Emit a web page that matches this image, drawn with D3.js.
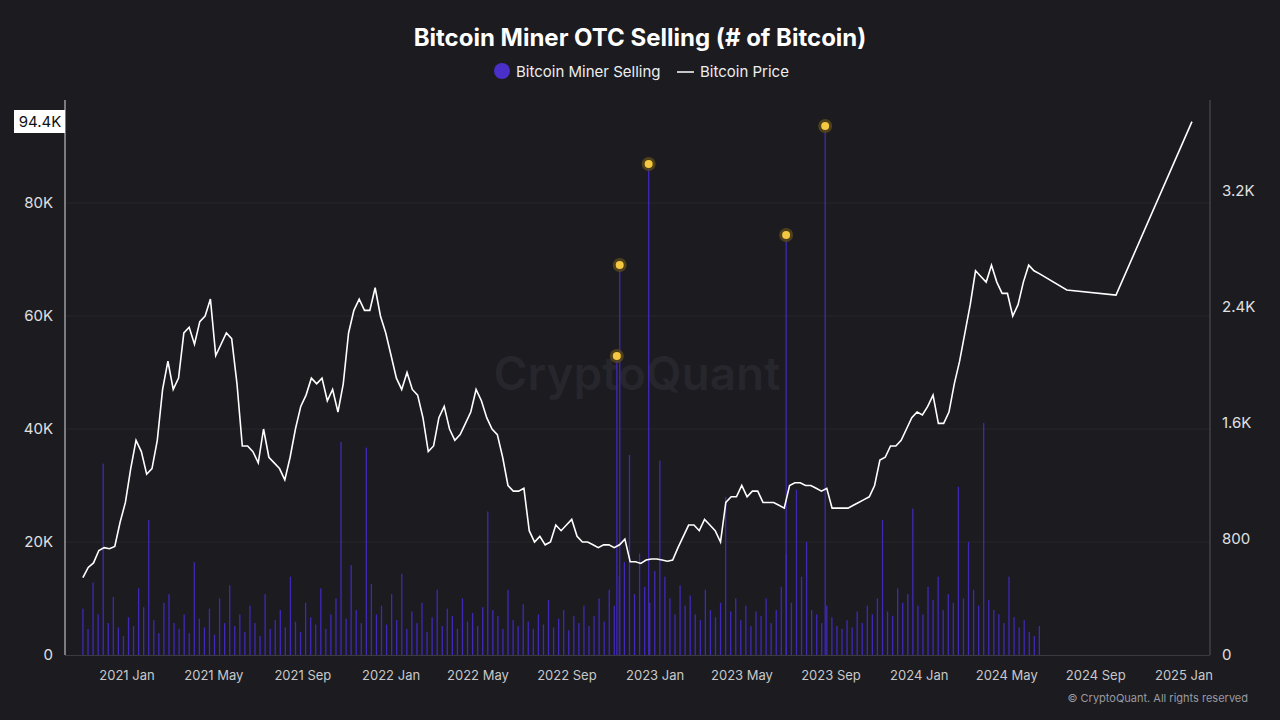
<!DOCTYPE html>
<html><head><meta charset="utf-8">
<script src="https://cdn.jsdelivr.net/npm/d3@7"></script>
<style>body{margin:0;background:#1b1b20;}svg{display:block;font-family:Inter,"Noto Sans",sans-serif;}</style>
</head><body><svg id="c" width="1280" height="720"></svg>
<script>
const startDate = "2020-11-01", lineEndDate = "2024-06-15";
const priceWeekly = [13.7,15.5,16.3,18.5,19.0,18.8,19.2,23.5,27,33,38,36,32,33,38,47,52,47,49,57,58,55,59,60,63,53,55,57,56,48,37,37,36,34,40,35,34,33,31,35,40,44,46,49,48,49,45,47,43,48,57,61,63,61,61,65,60,57,53,49,47,50,47,46,42,36,37,42,44,40,38,39,41,43,47,45,42,40,39,35,30,29,29,29.5,22,20,21,19.5,20,23,22,23,24,21,20,20,19.5,19,19.5,19.5,19,19.5,20.5,16.5,16.5,16.2,16.8,17,17,16.8,16.6,16.8,19,21,23,23,22,24,23,22,20,27,28,28,30,28,29,29,27,27,27,26.5,26,30,30.5,30.5,30,30,29.5,29,29.5,26,26,26,26,26.5,27,27.5,28,30,34.5,35,37,37,38,40,42,43,42.5,44,46,41,41,43,48,52,57,62,68,67,66,69,66,64,64,60,62,66,69,68,67.5];
const priceTailDates = ["2024-07-23","2024-09-29","2025-01-12"];
const priceTail = [64.6,63.7,94.4];
const sellingWeekly = [320,180,500,280,1320,220,400,190,130,260,200,460,330,930,240,150,360,420,220,180,280,150,640,250,190,320,140,390,220,480,200,280,160,340,220,130,420,180,240,310,190,540,230,160,360,260,210,460,180,280,390,1470,250,620,310,220,1430,490,280,340,210,420,240,560,180,300,220,360,160,260,450,200,320,270,180,390,230,290,200,330,990,310,270,180,450,240,200,350,230,180,280,210,380,190,250,310,170,270,220,340,200,270,390,230,450,340,540,640,1380,420,700,470,360,580,1340,540,390,280,480,340,410,280,240,450,310,260,360,1090,300,390,240,340,200,300,270,390,220,310,470,700,360,1140,540,780,310,280,220,340,260,200,180,240,190,300,220,340,280,390,930,300,270,460,360,420,1010,340,280,470,380,540,310,420,360,1160,390,780,450,340,1600,380,310,280,220,540,260,190,240,160,130,200];
const spikeDates = ["2022-11-09","2022-11-13","2022-12-23","2023-07-01","2023-08-24"];
const spikeValues = [2062,2690,3386,2897,3648];
const xTickDates = ["2021-01-01","2021-05-01","2021-09-01","2022-01-01","2022-05-01","2022-09-01","2023-01-01","2023-05-01","2023-09-01","2024-01-01","2024-05-01","2024-09-01","2025-01-01"];
const leftTicks = [0,20000,40000,60000,80000];
const rightTicks = [0,800,1600,2400,3200];

const p = d3.timeParse("%Y-%m-%d");
const svg = d3.select("#c");
const x = d3.scaleTime().domain([p("2020-11-01"), p("2025-01-01")]).range([82.9, 1184]);
const yL = d3.scaleLinear().domain([0,80000]).range([655,203]);
const yR = d3.scaleLinear().domain([0,3200]).range([655,191]);
const s = p(startDate), e = p(lineEndDate);

svg.append("text").attr("x",637).attr("y",390).attr("text-anchor","middle").attr("font-size",46).attr("font-weight",600).attr("fill","#26262c").text("CryptoQuant");

svg.append("g").selectAll("line").data(leftTicks.slice(1)).join("line")
 .attr("x1",65).attr("x2",1210).attr("y1",d=>yL(d)).attr("y2",d=>yL(d)).attr("stroke","#26262b");

const step = (e - s)/(sellingWeekly.length-1);
svg.append("g").selectAll("rect").data(sellingWeekly).join("rect")
 .attr("x",(d,i)=>x(new Date(+s+i*step))-0.6).attr("width",1.3)
 .attr("y",d=>yR(d)).attr("height",d=>655-yR(d)).attr("fill","#4029b8");
svg.append("g").selectAll("rect").data(spikeValues).join("rect")
 .attr("x",(d,i)=>x(p(spikeDates[i]))-0.6).attr("width",1.3)
 .attr("y",d=>yR(d)).attr("height",d=>655-yR(d)).attr("fill","#4029b8");

const pstep = (e - s)/(priceWeekly.length-1);
const pts = priceWeekly.map((v,i)=>[new Date(+s+i*pstep), v*1000])
 .concat(priceTail.map((v,i)=>[p(priceTailDates[i]), v*1000]));
svg.append("path").datum(pts).attr("fill","none").attr("stroke","#fff").attr("stroke-width",1.6)
 .attr("d", d3.line().x(d=>x(d[0])).y(d=>yL(d[1])));

const dg = svg.append("g");
spikeValues.forEach((v,i)=>{
  dg.append("circle").attr("cx",x(p(spikeDates[i]))).attr("cy",yR(v)).attr("r",7).attr("fill","#5a4a1a").attr("opacity",0.8);
  dg.append("circle").attr("cx",x(p(spikeDates[i]))).attr("cy",yR(v)).attr("r",4).attr("fill","#f5c842");
});

svg.append("line").attr("x1",65).attr("x2",65).attr("y1",100).attr("y2",655).attr("stroke","#ddd");
svg.append("line").attr("x1",1210).attr("x2",1210).attr("y1",100).attr("y2",655).attr("stroke","#555");
svg.append("line").attr("x1",65).attr("x2",1210).attr("y1",655.5).attr("y2",655.5).attr("stroke","#3a3a40");
const fmtK = d=> d===0 ? "0" : (d/1000)+"K";
svg.append("g").selectAll("text").data(leftTicks).join("text").attr("x",53).attr("y",d=>yL(d)+5)
 .attr("text-anchor","end").attr("font-size",15).attr("fill","#e0e0e0").text(fmtK);
svg.append("g").selectAll("text").data(rightTicks).join("text").attr("x",1222).attr("y",d=>yR(d)+5)
 .attr("font-size",15).attr("fill","#e0e0e0").text(d=> d>=1000 ? (d/1000)+"K" : d);
const fx = d3.timeFormat("%Y %b");
svg.append("g").selectAll("text").data(xTickDates).join("text").attr("x",d=>x(p(d))).attr("y",680)
 .attr("text-anchor","middle").attr("font-size",13).attr("fill","#c8c8c8").text(d=>fx(p(d)));

svg.append("rect").attr("x",14).attr("y",110).attr("width",51).attr("height",23).attr("fill","#fff");
svg.append("text").attr("x",40).attr("y",127).attr("text-anchor","middle").attr("font-size",15).attr("fill","#111").text("94.4K");

svg.append("text").attr("x",640).attr("y",46).attr("text-anchor","middle").attr("font-size",24).attr("font-weight",700).attr("fill","#fff").text("Bitcoin Miner OTC Selling (# of Bitcoin)");
svg.append("circle").attr("cx",502).attr("cy",71).attr("r",8).attr("fill","#4a30c8");
svg.append("text").attr("x",516).attr("y",77).attr("font-size",15).attr("fill","#eee").text("Bitcoin Miner Selling");
svg.append("line").attr("x1",677).attr("x2",694).attr("y1",72).attr("y2",72).attr("stroke","#fff").attr("stroke-width",1.5);
svg.append("text").attr("x",700).attr("y",77).attr("font-size",15).attr("fill","#eee").text("Bitcoin Price");
svg.append("text").attr("x",1248).attr("y",702).attr("text-anchor","end").attr("font-size",11).attr("fill","#9a9aa0").text("© CryptoQuant. All rights reserved");
</script></body></html>
